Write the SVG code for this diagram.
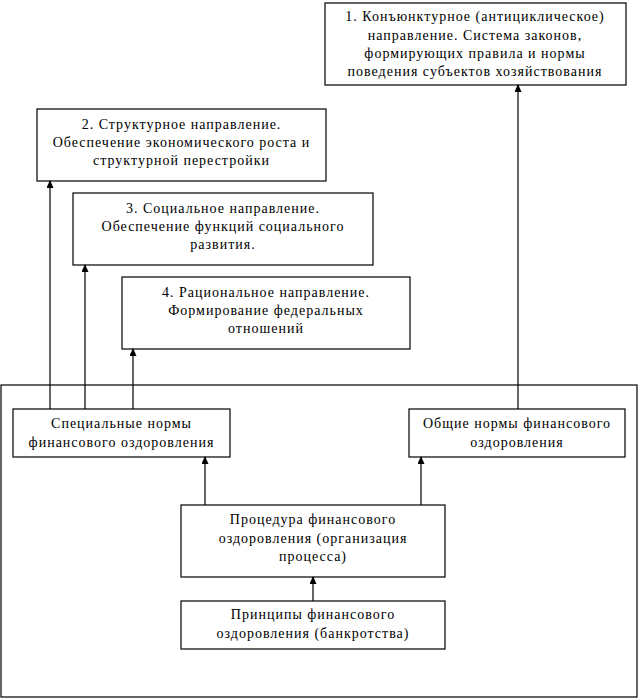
<svg xmlns="http://www.w3.org/2000/svg" width="638" height="698" viewBox="0 0 638 698">
<style>
rect{fill:#fff;stroke:#000;stroke-width:1.2}
text{font-family:'Liberation Serif','Times New Roman','DejaVu Serif',serif;font-size:14px;letter-spacing:1px;text-anchor:middle;fill:#000}
.c line{stroke:#000;stroke-width:1.2}
</style>
<defs>
<marker id="ah" markerWidth="8" markerHeight="8" refX="7" refY="3.5" orient="auto" markerUnits="userSpaceOnUse">
<path d="M0,0 L8,3.5 L0,7 Z" fill="#000"/>
</marker>
</defs>
<rect id="outer" x="1" y="385" width="636" height="312"/>
<g id="n1"><rect x="325" y="3" width="301" height="82"/>
<text x="475" y="21">1. Конъюнктурное (антициклическое)</text>
<text x="475" y="39.5">направление. Система законов,</text>
<text x="475" y="58">формирующих правила и нормы</text>
<text x="475" y="76">поведения субъектов хозяйствования</text></g>
<g id="n2"><rect x="37" y="109" width="289" height="72"/>
<text x="181.5" y="129">2. Структурное направление.</text>
<text x="181.5" y="147">Обеспечение экономического роста и</text>
<text x="181.5" y="165">структурной перестройки</text></g>
<g id="n3"><rect x="73" y="193" width="300" height="72"/>
<text x="223" y="213">3. Социальное направление.</text>
<text x="223" y="231">Обеспечение функций социального</text>
<text x="223" y="249">развития.</text></g>
<g id="n4"><rect x="122" y="277" width="288" height="72"/>
<text x="266" y="297">4. Рациональное направление.</text>
<text x="266" y="315">Формирование федеральных</text>
<text x="266" y="333">отношений</text></g>
<g id="n5"><rect x="13" y="409" width="217" height="48"/>
<text x="121.5" y="428">Специальные нормы</text>
<text x="121.5" y="447">финансового оздоровления</text></g>
<g id="n6"><rect x="409" y="409" width="216" height="48"/>
<text x="517" y="428">Общие нормы финансового</text>
<text x="517" y="447">оздоровления</text></g>
<g id="n7"><rect x="181" y="505" width="264" height="72"/>
<text x="313" y="524">Процедура финансового</text>
<text x="313" y="543">оздоровления (организация</text>
<text x="313" y="561">процесса)</text></g>
<g id="n8"><rect x="181" y="601" width="264" height="48"/>
<text x="313" y="619">Принципы финансового</text>
<text x="313" y="638">оздоровления (банкротства)</text></g>
<g class="c" id="connectors">
<line x1="518" y1="409" x2="518" y2="85" marker-end="url(#ah)"/>
<line x1="50" y1="409" x2="50" y2="181" marker-end="url(#ah)"/>
<line x1="85" y1="409" x2="85" y2="265" marker-end="url(#ah)"/>
<line x1="133" y1="409" x2="133" y2="349" marker-end="url(#ah)"/>
<line x1="205" y1="505" x2="205" y2="457" marker-end="url(#ah)"/>
<line x1="421" y1="505" x2="421" y2="457" marker-end="url(#ah)"/>
<line x1="313" y1="601" x2="313" y2="577" marker-end="url(#ah)"/>
</g>
</svg>
